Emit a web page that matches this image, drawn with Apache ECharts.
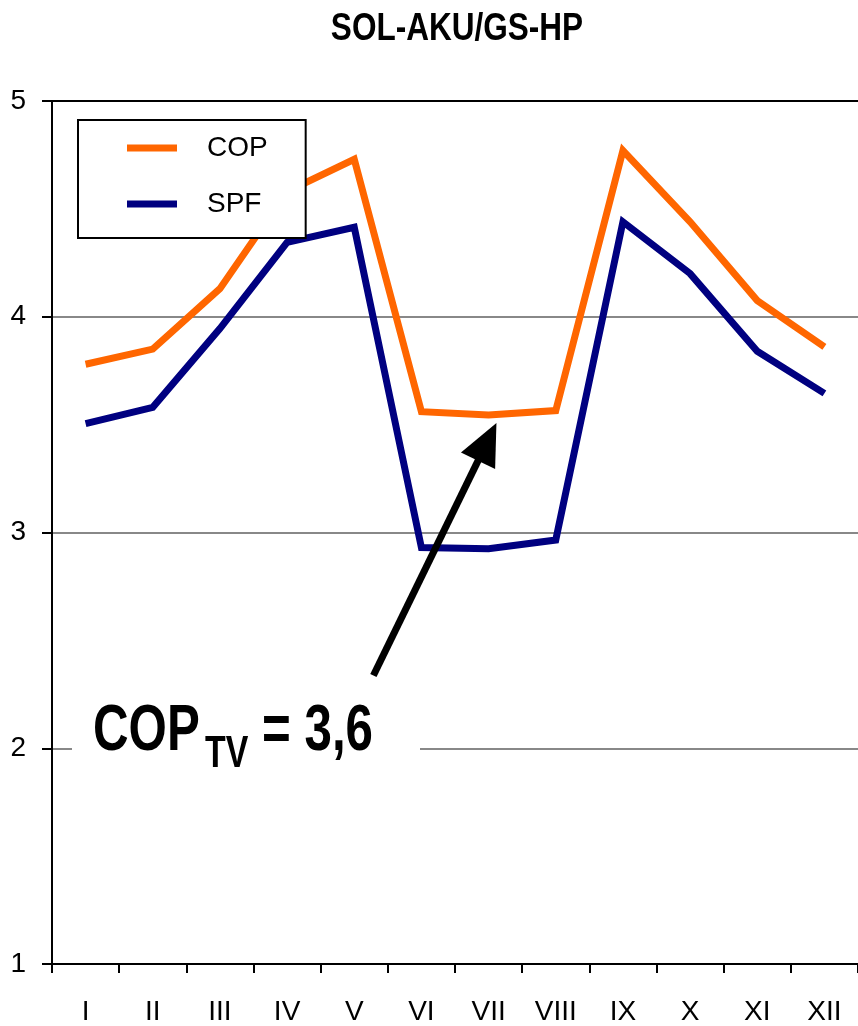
<!DOCTYPE html>
<html>
<head>
<meta charset="utf-8">
<script src="https://cdn.jsdelivr.net/npm/echarts@6/dist/echarts.min.js"></script>
<style>
html,body{margin:0;padding:0;background:#fff;}
#chart{width:858px;height:1026px;}
</style>
</head>
<body>
<div id="chart"></div>
<script>
const titleText = 'SOL-AKU/GS-HP';
const months = ['I','II','III','IV','V','VI','VII','VIII','IX','X','XI','XII'];
const copValues = [3.78, 3.85, 4.13, 4.58, 4.73, 3.56, 3.545, 3.565, 4.77, 4.44, 4.075, 3.86];
const spfValues = [3.505, 3.58, 3.945, 4.345, 4.415, 2.93, 2.925, 2.965, 4.44, 4.20, 3.84, 3.645];
const yTicks = [1, 2, 3, 4, 5];
// arrow annotation in data units (x: 0..12 month scale, y: value)
const arrowTail = [4.785, 2.337];
const arrowHead = [6.48, 3.42];
const annotMain = 'COP';
const annotSub = 'TV';
const annotRest = '= 3,6';

const FONT = "'Liberation Sans Narrow', 'Liberation Sans', Arial, sans-serif";
const NARROW = 0.77;
const chart = echarts.init(document.getElementById('chart'));
chart.setOption({
  backgroundColor: '#fff',
  animation: false,
  legend: {
    data: ['COP', 'SPF'],
    orient: 'vertical',
    left: 78, top: 120,
    padding: [14, 38, 20, 49],
    itemGap: 28,
    itemWidth: 50, itemHeight: 7,
    icon: 'rect',
    borderColor: '#000', borderWidth: 2,
    backgroundColor: '#fff',
    textStyle: {fontFamily: FONT, fontSize: 28, color: '#000', padding: [0, 0, 0, 25]}
  },
  grid: {left: 52, top: 101, right: -4, bottom: 59},
  xAxis: [{
    type: 'category', data: months, boundaryGap: true,
    axisLine: {lineStyle: {color: '#000', width: 2}},
    axisTick: {show: true, length: 9, lineStyle: {color: '#000', width: 2}},
    axisLabel: {fontFamily: FONT, fontSize: 28, color: '#000', margin: 34},
    splitLine: {show: false}
  }, {
    type: 'category', data: months, position: 'top',
    axisLine: {show: true, lineStyle: {color: '#000', width: 2}},
    axisTick: {show: false}, axisLabel: {show: false}, splitLine: {show: false}
  }, {
    type: 'value', min: 0, max: 12, show: false
  }],
  yAxis: {
    type: 'value', min: yTicks[0], max: yTicks[yTicks.length - 1], interval: 1,
    axisLine: {show: true, lineStyle: {color: '#000', width: 2}},
    axisTick: {show: true, length: 10, lineStyle: {color: '#000', width: 2}},
    axisLabel: {fontFamily: FONT, fontSize: 28, color: '#000', margin: 26},
    splitLine: {show: true, lineStyle: {color: '#888', width: 2}}
  },
  series: [{
    name: 'COP', type: 'line', data: copValues, xAxisIndex: 0,
    symbol: 'none', showSymbol: false, color: '#FF6600',
    lineStyle: {width: 7, color: '#FF6600', join: 'miter', cap: 'butt'}, z: 3
  }, {
    name: 'SPF', type: 'line', data: spfValues, xAxisIndex: 0,
    symbol: 'none', showSymbol: false, color: '#000080',
    lineStyle: {width: 7, color: '#000080', join: 'miter', cap: 'butt'}, z: 2
  }, {
    name: 'arrow', type: 'line', data: [], xAxisIndex: 2,
    markLine: {
      silent: true, animation: false,
      symbol: ['none', 'triangle'], symbolSize: [38, 42],
      label: {show: false},
      lineStyle: {color: '#000', width: 7, type: 'solid', cap: 'butt'},
      data: [[{coord: arrowTail}, {coord: arrowHead}]]
    },
    z: 5
  }],
  graphic: [{
    type: 'text', z: 11, x: 457, y: 30, scaleX: 0.83,
    style: {text: titleText, fontFamily: FONT, fontWeight: 'bold', fontSize: 38, fill: '#000', align: 'center', verticalAlign: 'middle'}
  }, {
    type: 'rect', z: 10, shape: {x: 72, y: 698, width: 348, height: 80},
    style: {fill: '#fff'}
  }, {
    type: 'text', z: 11, x: 93, y: 732, scaleX: NARROW,
    style: {text: annotMain, fontFamily: FONT, fontWeight: 'bold', fontSize: 64, fill: '#000', verticalAlign: 'middle'}
  }, {
    type: 'text', z: 11, x: 205, y: 755, scaleX: NARROW,
    style: {text: annotSub, fontFamily: FONT, fontWeight: 'bold', fontSize: 44, fill: '#000', verticalAlign: 'middle'}
  }, {
    type: 'text', z: 11, x: 262, y: 732, scaleX: NARROW,
    style: {text: annotRest, fontFamily: FONT, fontWeight: 'bold', fontSize: 64, fill: '#000', verticalAlign: 'middle'}
  }]
});
</script>
</body>
</html>
